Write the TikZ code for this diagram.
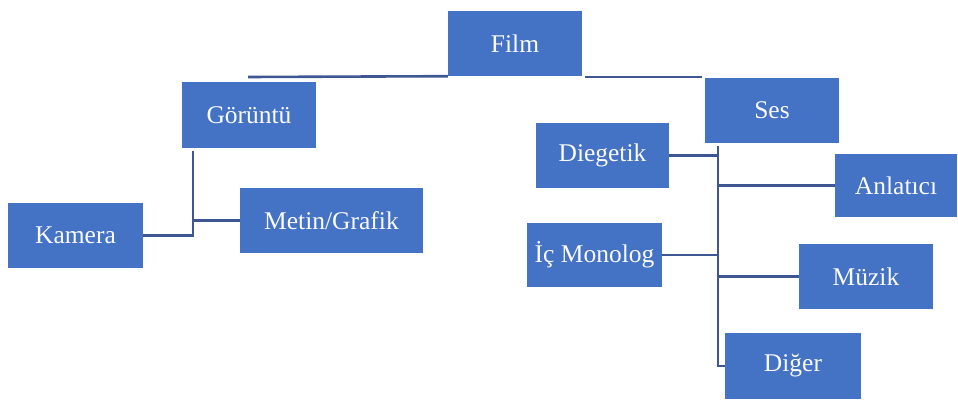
\documentclass[tikz,border=0pt]{standalone}
\usepackage{fontspec}
\setmainfont{Liberation Serif}
\definecolor{boxblue}{RGB}{68,114,196}
\definecolor{lineblue}{RGB}{62,86,146}
\definecolor{txtwhite}{RGB}{250,250,250}
\begin{document}
\begin{tikzpicture}[x=1pt,y=-1pt,
  box/.style={draw=none,fill=boxblue,text=txtwhite,inner sep=0pt,
    minimum height=65pt,font=\fontsize{25.5}{28}\selectfont},
  conn/.style={draw=lineblue,line width=2.6pt}]
\useasboundingbox (0,0) rectangle (958,399);
% nodes
\node[box,minimum width=134pt,minimum height=65pt] (film) at (515,43.5) {Film};
\node[box,minimum width=134pt,minimum height=66pt] (gor) at (249,115) {Görüntü};
\node[box,minimum width=135pt] (kam) at (75.5,235.5) {Kamera};
\node[box,minimum width=183pt] (met) at (331.5,220.5) {Metin/Grafik};
\node[box,minimum width=134pt] (ses) at (772,110.5) {Ses};
\node[box,minimum width=133pt] (die) at (602.5,155.5) {Diegetik};
\node[box,minimum width=122pt,minimum height=63pt] (anl) at (896,185.5) {Anlatıcı};
\node[box,minimum width=135pt,minimum height=64pt] (ic) at (594.5,255) {İç Monolog};
\node[box,minimum width=134pt] (muz) at (866,276.5) {Müzik};
\node[box,minimum width=136pt,minimum height=66pt] (dig) at (793,366) {Diğer};
% coordinates
\coordinate (fl) at (248,77);
\coordinate (fr1) at (585,77);
\coordinate (fr2) at (702,77);
\coordinate (gtop) at (193,151);
\coordinate (stop) at (718,146);
% connectors
\draw[conn] (fl) -- (film.south west);
\draw[conn] (fr1) -- (fr2);
\draw[conn] (gtop) |- (kam.east);
\draw[conn] (met.west) -| (gtop);
\draw[conn] (stop) |- (dig.west);
\draw[conn] (die.east) -| (stop);
\draw[conn] (stop) |- (anl.west);
\draw[conn] (ic.east) -| (stop);
\draw[conn] (stop) |- (muz.west);
\end{tikzpicture}
\end{document}
